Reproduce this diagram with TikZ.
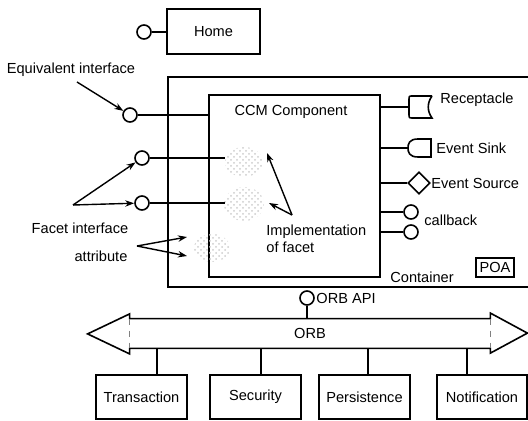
\documentclass[tikz,border=0pt]{standalone}
\usepackage{fontspec}
\setmainfont{Liberation Sans}
\usepackage{tikz}
\usetikzlibrary{arrows.meta,shapes.geometric,patterns}

\begin{document}
\begin{tikzpicture}[x=0.5pt,y=-0.5pt,
  line/.style={line width=0.8pt},
  box/.style={draw,line width=0.8pt,inner sep=0pt},
  port/.style={draw,circle,line width=0.8pt,inner sep=0pt,minimum size=7pt},
  lbl/.style={inner sep=0pt},
  arr/.style={line width=0.7pt,-{Stealth[length=4.5pt,width=3.2pt]}},
  stip/.style={pattern=crosshatch dots,pattern color=gray!40},
  every node/.style={font=\fontsize{7.3}{8.5}\selectfont}]
\useasboundingbox (0,0) rectangle (528,421);
\node[box,minimum width=46.5pt,minimum height=22.5pt] (home) at (213.5,31.5) {Home};
\node[port] (hp) at (144,32) {};
\draw[line] (hp) -- (hp -| home.west);
\draw[line] (528,77) -| (168,287) -- (528,287);
\node[box,minimum width=85.5pt,minimum height=91pt] (ccm) at (294.5,186) {};
\node[lbl] (ccmlbl) at (291,112) {CCM Component};
\fill[stip] (244,162) ellipse [x radius=19, y radius=15];
\fill[stip] (244,204) ellipse [x radius=20, y radius=17];
\fill[stip] (212,248) ellipse [x radius=18, y radius=14];
\node[port] (eq) at (130,115) {};
\node[port] (fp1) at (142,158) {};
\node[port] (fp2) at (142,203) {};
\coordinate (f1) at (225,158);
\coordinate (f2) at (225,203);
\draw[line] (eq) -- (eq -| ccm.west);
\draw[line] (fp1) -- (f1);
\draw[line] (fp2) -- (f2);
\node[lbl] (eqlbl) at (71,70) {Equivalent interface};
\coordinate (eqt) at (77,82);
\draw[arr] (eqt) -- (eq);
\node[lbl] (flbl) at (80,228) {Facet interface};
\coordinate (ft) at (73,205);
\draw[arr] (ft) -- (fp1);
\draw[arr] (ft) -- (fp2);
\node[lbl] (albl) at (101,256) {attribute};
\coordinate (at1) at (137,246);
\coordinate (a1) at (187,237);
\coordinate (a2) at (187,256);
\draw[arr] (at1) -- (a1);
\draw[arr] (at1) -- (a2);
\node[lbl,align=left,anchor=north west] (impl) at (266,225) {Implementation\\of facet};
\coordinate (it) at (292,215);
\coordinate (i1) at (267,153);
\coordinate (i2) at (269,203);
\draw[arr] (it) -- (i1);
\draw[arr] (it) -- (i2);
\coordinate (recp) at (409,107);
\coordinate (sink) at (408,148);
\draw[line] (recp -| ccm.east) -- (recp);
\draw[line] (432,96) -- (413,96) .. controls (409,96) .. (409,100) -- (409,114) .. controls (409,118) .. (413,118) -- (432,118) .. controls (427,111) and (427,103) .. (432,96);
\node[lbl,anchor=west] (rlbl) at (440,100) {Receptacle};
\draw[line] (sink -| ccm.east) -- (sink);
\draw[line] (431,139) -- (418,139) .. controls (409,139) and (408,144) .. (408,148) .. controls (408,152) and (409,157) .. (418,157) -- (431,157) -- cycle;
\node[lbl,anchor=west] (slbl) at (436,148) {Event Sink};
\node[draw,diamond,line width=0.8pt,inner sep=0pt,minimum width=11pt,minimum height=11pt] (src) at (419,183) {};
\draw[line] (src -| ccm.east) -- (src);
\node[lbl,anchor=west] (srclbl) at (431,183) {Event Source};
\node[port] (cb1) at (411,212) {};
\node[port] (cb2) at (411,232) {};
\draw[line] (cb1 -| ccm.east) -- (cb1);
\draw[line] (cb2 -| ccm.east) -- (cb2);
\node[lbl,anchor=west] (cblbl) at (424,220) {callback};
\node[box,minimum width=19pt,minimum height=9.5pt] (poa) at (495,267.5) {POA};
\node[lbl,anchor=west] (clbl) at (390,277) {Container};
\node[inner sep=0pt,minimum width=180pt,minimum height=14.5pt] (orb) at (310,333.5) {ORB};
\draw[line] (orb.north west) -- (orb.north east) -- ++(0,-5.5) -- ++(37,20) -- ++(-37,20) -- (orb.south east) -- (orb.south west) -- ++(0,5.5) -- ++(-42,-20) -- ++(42,-20) -- cycle;
\draw[gray,thin,dashed] (orb.north west) -- (orb.south west);
\draw[gray,thin,dashed] (orb.north east) -- (orb.south east);
\node[port] (api) at (307,298) {};
\draw[line] (api) -- (api |- orb.north);
\node[lbl,anchor=west] (apilbl) at (316,298) {ORB API};
\node[box,minimum width=45.5pt,minimum height=22pt] (trans) at (141.5,397) {Transaction};
\node[box,minimum width=45.5pt,minimum height=22pt] (sec) at (255.5,397) {Security};
\node[box,minimum width=45.5pt,minimum height=22pt] (pers) at (364.5,397) {Persistence};
\node[box,minimum width=45pt,minimum height=22pt] (notif) at (482,397) {Notification};
\coordinate (d1) at (157,348);
\coordinate (d2) at (261,348);
\coordinate (d3) at (368,348);
\coordinate (d4) at (467,348);
\draw[line] (d1) -- (d1 |- trans.north);
\draw[line] (d2) -- (d2 |- sec.north);
\draw[line] (d3) -- (d3 |- pers.north);
\draw[line] (d4) -- (d4 |- notif.north);
\end{tikzpicture}
\end{document}
